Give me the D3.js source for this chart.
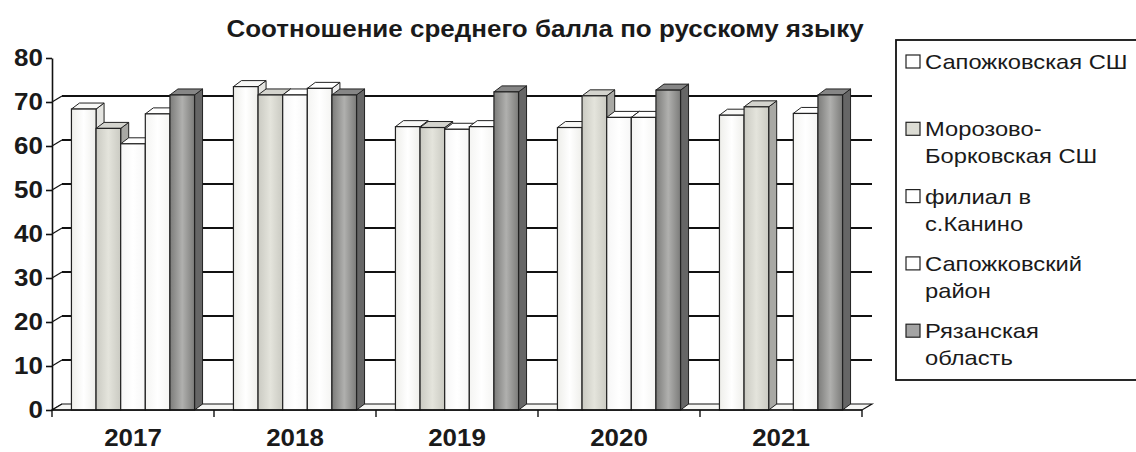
<!DOCTYPE html>
<html>
<head>
<meta charset="utf-8">
<script src="https://cdn.jsdelivr.net/npm/d3@7"></script>
<style>
  body { margin: 0; background: #fff; }
  text { font-family: "Liberation Sans", Arial, sans-serif; fill: #1a1a1a; }
</style>
</head>
<body>
<div id="chart"></div>
<script>
var years = ['2017', '2018', '2019', '2020', '2021'];
var seriesNames = ['Сапожковская СШ', 'Морозово-Борковская СШ', 'филиал в с.Канино', 'Сапожковский район', 'Рязанская область'];
var legendLines = [['Сапожковская СШ'], ['Морозово-', 'Борковская СШ'], ['филиал в', 'с.Канино'], ['Сапожковский', 'район'], ['Рязанская', 'область']];
var sapozhkovSchool = [68.4, 73.5, 64.4, 64.2, 67.0];
var morozovoSchool = [64.0, 71.6, 64.2, 71.4, 68.9];
var kaninoBranch = [60.5, 71.6, 63.8, 66.5, null];
var sapozhkovDistrict = [67.3, 73.1, 64.4, 66.5, 67.4];
var ryazanRegion = [71.6, 71.6, 72.3, 72.7, 71.6];
var yTicks = [0, 10, 20, 30, 40, 50, 60, 70, 80];

var seriesValues = [sapozhkovSchool, morozovoSchool, kaninoBranch, sapozhkovDistrict, ryazanRegion];

// face colours per series: [front edge, front middle, side, top, legend swatch]
var faces = [
  ['#eeeeea', '#ffffff', '#e4e4e0', '#f8f8f6', '#ffffff'],
  ['#cacac2', '#e4e4dc', '#a8a8a4', '#d4d4ce', '#dcdcd4'],
  ['#f6f6f6', '#ffffff', '#eeeeee', '#ffffff', '#ffffff'],
  ['#f4f4f2', '#ffffff', '#eaeaea', '#ffffff', '#ffffff'],
  ['#7c7c7a', '#b0b0ae', '#666666', '#868686', '#a4a4a4']
];

var W = 1136, H = 452;
var wallDx = 10, wallDy = -6;
var barDx = 8, barDy = -6;
var stretch = 1.13; // the scan is a bit wider than tall

var svg = d3.select('#chart').append('svg')
  .attr('width', W)
  .attr('height', H);

var defs = svg.append('defs');
faces.forEach(function(f, i) {
  var g = defs.append('linearGradient').attr('id', 'front' + i)
    .attr('x1', '0%').attr('x2', '100%').attr('y1', '0%').attr('y2', '0%');
  g.append('stop').attr('offset', '0%').attr('stop-color', f[0]);
  g.append('stop').attr('offset', '50%').attr('stop-color', f[1]);
  g.append('stop').attr('offset', '100%').attr('stop-color', f[0]);
});

var x = d3.scaleBand().domain(years).range([52, 862]).paddingInner(0.24).paddingOuter(0.12);
var xs = d3.scaleBand().domain(seriesNames).range([0, x.bandwidth()]);
var y = d3.scaleLinear().domain([0, 80]).range([410, 58]);

var left = 52, right = 862, bottom = y(0), top = y(80);

// title
svg.append('text')
  .attr('transform', 'translate(545,37) scale(' + stretch + ',1)')
  .attr('text-anchor', 'middle')
  .style('font-size', '23px')
  .style('font-weight', 'bold')
  .text('Соотношение среднего балла по русскому языку');

// back wall
svg.append('rect')
  .attr('x', left + wallDx)
  .attr('y', top + wallDy)
  .attr('width', right - left)
  .attr('height', bottom - top)
  .attr('fill', '#fff')
  .attr('stroke', '#111')
  .attr('stroke-width', 1.6);

// side wall
svg.append('path')
  .attr('d', 'M' + left + ',' + bottom + 'L' + (left + wallDx) + ',' + (bottom + wallDy) +
    'L' + (left + wallDx) + ',' + (top + wallDy) + 'L' + left + ',' + top + 'Z')
  .attr('fill', '#fff')
  .attr('stroke', '#111')
  .attr('stroke-width', 1.2);

// gridlines on back + side walls
var grid = svg.append('g');
yTicks.filter(function(t) { return t > 0 && t < 80; }).forEach(function(t) {
  grid.append('line')
    .attr('x1', left + wallDx).attr('x2', right + wallDx)
    .attr('y1', y(t) + wallDy).attr('y2', y(t) + wallDy)
    .attr('stroke', '#111').attr('stroke-width', 1.8);
  grid.append('line')
    .attr('x1', left).attr('x2', left + wallDx)
    .attr('y1', y(t)).attr('y2', y(t) + wallDy)
    .attr('stroke', '#111').attr('stroke-width', 1.2);
});

// floor
svg.append('path')
  .attr('d', 'M' + left + ',' + bottom + 'L' + right + ',' + bottom +
    'L' + (right + wallDx) + ',' + (bottom + wallDy) + 'L' + (left + wallDx) + ',' + (bottom + wallDy) + 'Z')
  .attr('fill', '#f6f6f4')
  .attr('stroke', '#111')
  .attr('stroke-width', 1.2);

// bars, drawn left to right so each front face covers the previous side
var bars = svg.append('g');
years.forEach(function(yr, ci) {
  seriesNames.forEach(function(name, si) {
    var v = seriesValues[si][ci];
    if (v == null) return;
    var x0 = x(yr) + xs(name), w = xs.bandwidth();
    var yt = y(v), yb = y(0);
    var f = faces[si];
    bars.append('path')
      .attr('d', 'M' + (x0 + w) + ',' + yb + 'L' + (x0 + w + barDx) + ',' + (yb + barDy) +
        'L' + (x0 + w + barDx) + ',' + (yt + barDy) + 'L' + (x0 + w) + ',' + yt + 'Z')
      .attr('fill', f[2]).attr('stroke', '#222').attr('stroke-width', 1);
    bars.append('path')
      .attr('d', 'M' + x0 + ',' + yt + 'L' + (x0 + w) + ',' + yt +
        'L' + (x0 + w + barDx) + ',' + (yt + barDy) + 'L' + (x0 + barDx) + ',' + (yt + barDy) + 'Z')
      .attr('fill', f[3]).attr('stroke', '#222').attr('stroke-width', 1);
    bars.append('rect')
      .attr('x', x0).attr('y', yt)
      .attr('width', w).attr('height', yb - yt)
      .attr('fill', 'url(#front' + si + ')')
      .attr('stroke', '#222').attr('stroke-width', 1.2);
  });
});

// y axis
var yAxis = svg.append('g')
  .attr('transform', 'translate(' + left + ',0)')
  .call(d3.axisLeft(y).tickValues(yTicks).tickSize(6).tickSizeOuter(0).tickPadding(2));
yAxis.select('.domain').attr('stroke', '#111').attr('stroke-width', 1.6);
yAxis.selectAll('.tick line').attr('stroke', '#111').attr('stroke-width', 1.6);
yAxis.selectAll('.tick text')
  .attr('transform', 'scale(' + stretch + ',1)')
  .style('font-size', '23px')
  .style('font-weight', 'bold')
  .style('font-family', '"Liberation Sans", Arial, sans-serif')
  .attr('fill', '#1a1a1a');

// x axis with ticks at category boundaries
var xAxis = svg.append('g');
xAxis.append('line')
  .attr('x1', left).attr('x2', right)
  .attr('y1', bottom).attr('y2', bottom)
  .attr('stroke', '#111').attr('stroke-width', 1.6);
d3.range(years.length + 1).forEach(function(i) {
  var bx = left + i * x.step();
  xAxis.append('line')
    .attr('x1', bx).attr('x2', bx)
    .attr('y1', bottom).attr('y2', bottom + 7)
    .attr('stroke', '#111').attr('stroke-width', 1.4);
});
xAxis.selectAll('text.year')
  .data(years).enter()
  .append('text')
  .attr('class', 'year')
  .attr('transform', function(d) {
    return 'translate(' + (x(d) + x.bandwidth() / 2) + ',446) scale(1.08,1)';
  })
  .attr('text-anchor', 'middle')
  .style('font-size', '24px')
  .style('font-weight', 'bold')
  .text(function(d) { return d; });

// legend
var legend = svg.append('g');
legend.append('rect')
  .attr('x', 896).attr('y', 40)
  .attr('width', 260).attr('height', 340)
  .attr('fill', '#fff')
  .attr('stroke', '#111')
  .attr('stroke-width', 1.8);

var entries = legend.selectAll('g.entry')
  .data(legendLines).enter()
  .append('g')
  .attr('class', 'entry')
  .attr('transform', function(d, i) { return 'translate(0,' + (62 + i * 67.3) + ')'; });

entries.append('rect')
  .attr('x', 906).attr('y', -7)
  .attr('width', 14).attr('height', 13)
  .attr('fill', function(d, i) { return faces[i][4]; })
  .attr('stroke', '#222')
  .attr('stroke-width', 1.2);

entries.selectAll('text')
  .data(function(d) { return d; }).enter()
  .append('text')
  .attr('transform', function(d, j) { return 'translate(925,' + (7 + j * 27) + ') scale(' + stretch + ',1)'; })
  .style('font-size', '21px')
  .text(function(d) { return d; });
</script>
</body>
</html>
